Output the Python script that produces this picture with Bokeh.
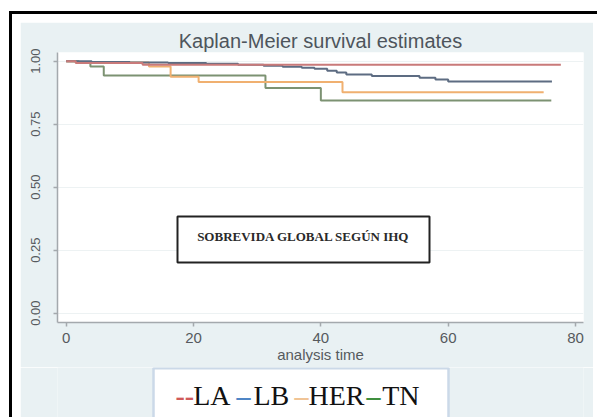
from bokeh.plotting import figure
from bokeh.layouts import column
from bokeh.models import Range1d, FixedTicker, PrintfTickFormatter, Label, BoxAnnotation
from bokeh.embed import file_html
from bokeh.resources import INLINE

# ---- data ----
la_t = [0, 1.5, 12, 77.7]
la_s = [1.0, 0.993, 0.986, 0.986]
lb_t = [0, 4, 10, 16, 22, 27, 31, 34, 37, 39, 41, 42.5, 44, 48, 55.5, 58, 60, 76.3]
lb_s = [1.0, 0.997, 0.995, 0.993, 0.99, 0.986, 0.982, 0.978, 0.974, 0.97, 0.962, 0.955, 0.947, 0.941, 0.934, 0.927, 0.919, 0.919]
her_t = [0, 1.5, 13, 16.4, 20.8, 43.4, 75]
her_s = [1.0, 0.995, 0.979, 0.938, 0.917, 0.877, 0.877]
tn_t = [0, 2, 3.8, 5.9, 31.3, 40, 76.2]
tn_s = [1.0, 0.993, 0.979, 0.943, 0.894, 0.844, 0.844]
x_ticks = [0, 20, 40, 60, 80]
y_ticks = [0, 0.25, 0.5, 0.75, 1.0]
series_names = ["LA", "LB", "HER", "TN"]
line_colors = ["#c97a7a", "#5d6c82", "#f0b070", "#7c9272"]
legend_dash_colors = ["#d05a5a", "#4f86c6", "#f0c496", "#3f8f3f"]
legend_dashes = ["--", "–", "–", "–"]
title_text = "Kaplan-Meier survival estimates"
xlabel_text = "analysis time"
box_text = "SOBREVIDA GLOBAL SEGÚN IHQ"

# ---- layout constants (page pixels) ----
OX, OY = 20, 22                 # where the grey panel starts
W = 573
SPLIT = 367                     # page y where the legend strip starts
H1, H2 = SPLIT - OY, 417 - SPLIT
FL, FR, FT, FB = 57, 583, 52, 322   # plot frame in page pixels
X0, X1 = -1.367, 81.257
Y0, Y1 = -0.0369, 1.0345


def px(xp):
    return X0 + (xp - FL) / (FR - FL) * (X1 - X0)


def py(yp):
    return Y1 - (yp - FT) / (FB - FT) * (Y1 - Y0)


panel = "#e9f1f3"
p = figure(width=W, height=H1, output_backend="svg", toolbar_location=None,
           x_range=Range1d(X0, X1), y_range=Range1d(Y0, Y1),
           min_border_left=FL - OX, min_border_right=OX + W - FR,
           min_border_top=FT - OY, min_border_bottom=SPLIT - FB)
p.border_fill_color = panel
p.background_fill_color = "white"
p.outline_line_color = None

# title
p.title.text = title_text
p.title.align = "center"
p.title.text_font = "Liberation Sans"
p.title.text_font_size = "20px"
p.title.text_font_style = "normal"
p.title.text_color = "#4e555c"
p.title.standoff = 2

# axes
for ax in (p.xaxis[0], p.yaxis[0]):
    ax.axis_line_color = "#a4a9ad"
    ax.axis_line_width = 1.5
    ax.major_tick_line_color = "#a4a9ad"
    ax.major_tick_line_width = 1.5
    ax.major_tick_out = 4
    ax.major_tick_in = 0
    ax.minor_tick_line_color = None
    ax.major_label_text_color = "#565a5e"
    ax.major_label_text_font = "Liberation Sans"

p.xaxis.ticker = FixedTicker(ticks=x_ticks)
p.xaxis.major_label_text_font_size = "15px"
p.xaxis.major_label_standoff = 6
p.xaxis.axis_label = xlabel_text
p.xaxis.axis_label_text_font = "Liberation Sans"
p.xaxis.axis_label_text_font_size = "15px"
p.xaxis.axis_label_text_font_style = "normal"
p.xaxis.axis_label_text_color = "#565a5e"
p.xaxis.axis_label_standoff = 0

p.yaxis.ticker = FixedTicker(ticks=y_ticks)
p.yaxis.formatter = PrintfTickFormatter(format="%.2f")
p.yaxis.major_label_orientation = "vertical"
p.yaxis.major_label_text_font_size = "13px"
p.yaxis.major_label_standoff = 13

p.xgrid.grid_line_color = None
p.ygrid.grid_line_color = "#edf2f3"
p.ygrid.grid_line_width = 1

# curves
for t, s, c in ((tn_t, tn_s, line_colors[3]), (her_t, her_s, line_colors[2]),
                (lb_t, lb_s, line_colors[1]), (la_t, la_s, line_colors[0])):
    p.step(t, s, mode="after", line_width=2, line_color=c)

# annotation box
p.add_layout(BoxAnnotation(left=px(177), right=px(429), top=py(216), bottom=py(262),
                           fill_color="white", fill_alpha=1, line_color="#222222",
                           line_alpha=1, line_width=2))
p.add_layout(Label(x=px(303), y=py(236), text=box_text, text_align="center",
                   text_baseline="middle", text_font="Liberation Serif",
                   text_font_style="bold", text_font_size="13px", text_color="#2a2a2a"))

# ---- legend strip (its own canvas; its frame lines up with the plot frame) ----
q = figure(width=W, height=H2, output_backend="svg", toolbar_location=None, title=None,
           x_range=Range1d(FL, FR), y_range=Range1d(417, SPLIT),
           x_axis_type=None, y_axis_type=None,
           min_border_left=FL - OX, min_border_right=OX + W - FR,
           min_border_top=0, min_border_bottom=0)
q.border_fill_color = panel
q.background_fill_color = panel
q.outline_line_color = None
q.xgrid.visible = False
q.ygrid.visible = False
q.add_layout(BoxAnnotation(left=153, right=448, top=367.8, bottom=440,
                           fill_color="white", fill_alpha=1, line_color="#cbd9e8",
                           line_alpha=1, line_width=2.5))
dash_x = [175, 236, 294, 366]
name_x = [192.7, 253, 308, 381.7]
for i, name in enumerate(series_names):
    q.add_layout(Label(x=dash_x[i], y=395, text=legend_dashes[i], text_align="left",
                       text_baseline="middle", text_font="Liberation Serif",
                       text_font_style="bold", text_font_size="28px",
                       text_color=legend_dash_colors[i]))
    q.add_layout(Label(x=name_x[i], y=395, text=name, text_align="left",
                       text_baseline="middle", text_font="Liberation Serif",
                       text_font_size="28px", text_color="#111111"))

layout = column(p, q, spacing=0, margin=(OY, 0, 0, OX),
                styles={"box-shadow": "0 0 0 8px white, -1px -1px 0 10px black"})

open("out.html", "w").write(file_html(layout, INLINE))
